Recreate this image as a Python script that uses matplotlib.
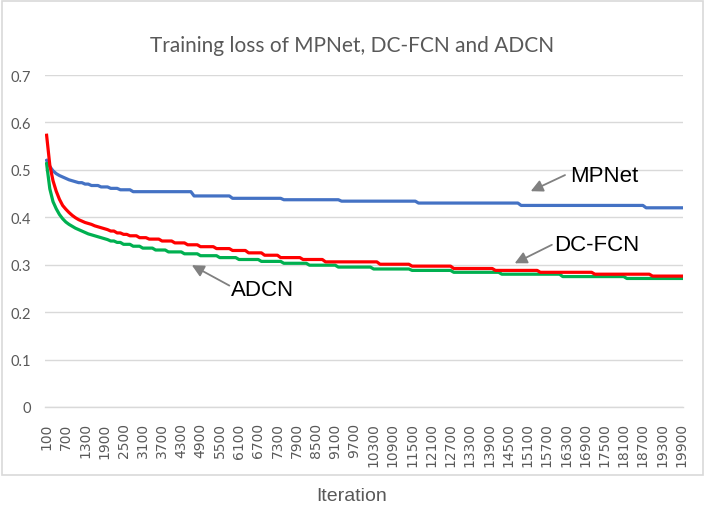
import numpy as np
import matplotlib
matplotlib.use("Agg")
import matplotlib.pyplot as plt
from matplotlib.patches import Rectangle, FancyArrowPatch

# ---------------- data ----------------
iterations = list(range(100, 20000, 100))          # 199 categories
tick_every = 6

mpnet_levels = [0.520, 0.507, 0.498, 0.492, 0.488, 0.485, 0.482, 0.479, 0.477, 0.475,
                0.473, 0.470, 0.467, 0.464, 0.461, 0.458, 0.454, 0.445, 0.440, 0.437,
                0.434, 0.430, 0.425, 0.420]
mpnet_counts = [1, 1, 1, 1, 1, 1, 1, 1, 1, 1,
                2, 2, 3, 3, 3, 4, 19, 12, 16, 18,
                24, 32, 39, 12]

dcfcn_levels = [0.573, 0.510, 0.477, 0.455, 0.438, 0.425, 0.417, 0.410, 0.404, 0.399,
                0.395, 0.392, 0.389, 0.387, 0.385, 0.382, 0.380, 0.378, 0.376, 0.374,
                0.371, 0.367, 0.364, 0.361, 0.357, 0.354, 0.350, 0.346, 0.342, 0.338,
                0.334, 0.330, 0.325, 0.320, 0.315, 0.311, 0.306, 0.301, 0.297, 0.292,
                0.288, 0.284, 0.280, 0.276]
dcfcn_counts = [1] * 20 + [2, 2, 2, 3, 3, 4, 4, 4, 4, 5,
                           5, 5, 5, 5, 7, 7, 17, 10, 13, 13,
                           14, 17, 18, 10]

adcn_levels = [0.513, 0.460, 0.433, 0.418, 0.406, 0.397, 0.390, 0.385, 0.381, 0.377,
               0.374, 0.371, 0.368, 0.365, 0.363, 0.361, 0.359, 0.357, 0.355, 0.353,
               0.350, 0.347, 0.343, 0.339, 0.335, 0.331, 0.327, 0.323, 0.319, 0.315,
               0.311, 0.307, 0.303, 0.299, 0.295, 0.291, 0.288, 0.284, 0.280, 0.275,
               0.271]
adcn_counts = [1] * 20 + [2, 2, 3, 3, 4, 4, 5, 5, 6, 6,
                          7, 7, 8, 9, 11, 12, 13, 15, 19, 20,
                          18]

mpnet = np.repeat(mpnet_levels, mpnet_counts)
dcfcn = np.repeat(dcfcn_levels, dcfcn_counts)
adcn = np.repeat(adcn_levels, adcn_counts)

y_ticks = [0, 0.1, 0.2, 0.3, 0.4, 0.5, 0.6, 0.7]
y_tick_labels = ["0", "0.1", "0.2", "0.3", "0.4", "0.5", "0.6", "0.7"]

# ---------------- figure ----------------
W, H = 707, 506
fig = plt.figure(figsize=(W / 100, H / 100), dpi=100)
fig.patch.set_facecolor("white")

# chart frame
fig.patches.append(Rectangle((2 / W, 1 - 476 / H), 701 / W, 474 / H,
                             transform=fig.transFigure, fill=False,
                             edgecolor="#d9d9d9", lw=1.2))

ax = fig.add_axes([45 / W, 1 - 408 / H, (683 - 45) / W, (408 - 76) / H])
x = np.arange(len(iterations))

ax.plot(x, mpnet, color="#4472C4", lw=2.3, solid_joinstyle="round", zorder=3)
ax.plot(x, adcn, color="#00B050", lw=2.3, solid_joinstyle="round", zorder=3)
ax.plot(x, dcfcn, color="#FF0000", lw=2.3, solid_joinstyle="round", zorder=4)

ax.set_xlim(-0.5, len(iterations) - 0.5)
ax.set_ylim(0, 0.7)
ax.set_yticks(y_ticks)
ax.set_yticklabels(y_tick_labels, fontfamily="Lato", fontsize=10.5, color="#595959")
ax.yaxis.grid(True, color="#d9d9d9", lw=1.0)
ax.set_axisbelow(True)
ax.tick_params(axis="y", length=0, pad=10)

tick_idx = x[::tick_every]
ax.set_xticks(tick_idx)
ax.set_xticklabels([str(iterations[i]) for i in tick_idx], rotation=90,
                   fontfamily="DejaVu Sans", fontsize=10, color="#595959")
ax.tick_params(axis="x", length=0, pad=11)

for s in ["top", "right", "left"]:
    ax.spines[s].set_visible(False)
ax.spines["bottom"].set_color("#d9d9d9")
ax.spines["bottom"].set_linewidth(1.0)

# title and axis label
fig.text(352 / W, 1 - 46 / H, "Training loss of MPNet, DC-FCN and ADCN",
         ha="center", va="center", fontfamily="Lato", fontsize=15, color="#595959")
fig.text(352 / W, 1 - 497 / H, "Iteration", ha="center", va="center",
         fontfamily="Liberation Sans", fontsize=14, color="#595959")

# annotations (data coordinates)
def arrow(tail, tip):
    ax.add_patch(FancyArrowPatch(tail, tip, arrowstyle="-|>", mutation_scale=18,
                                 color="#808080", lw=1.3, shrinkA=0, shrinkB=0,
                                 zorder=6, clip_on=False))

arrow((161.7, 0.489), (151.0, 0.455))
ax.text(173.9, 0.488, "MPNet", ha="center", va="center",
        fontfamily="Liberation Sans", fontsize=16, color="black", zorder=7)
arrow((157.6, 0.342), (146.0, 0.303))
ax.text(171.7, 0.343, "DC-FCN", ha="center", va="center",
        fontfamily="Liberation Sans", fontsize=16, color="black", zorder=7)
arrow((57.0, 0.256), (45.3, 0.299))
ax.text(67.3, 0.248, "ADCN", ha="center", va="center",
        fontfamily="Liberation Sans", fontsize=16, color="black", zorder=7)

fig.savefig("out.png", dpi=100, facecolor="white")
